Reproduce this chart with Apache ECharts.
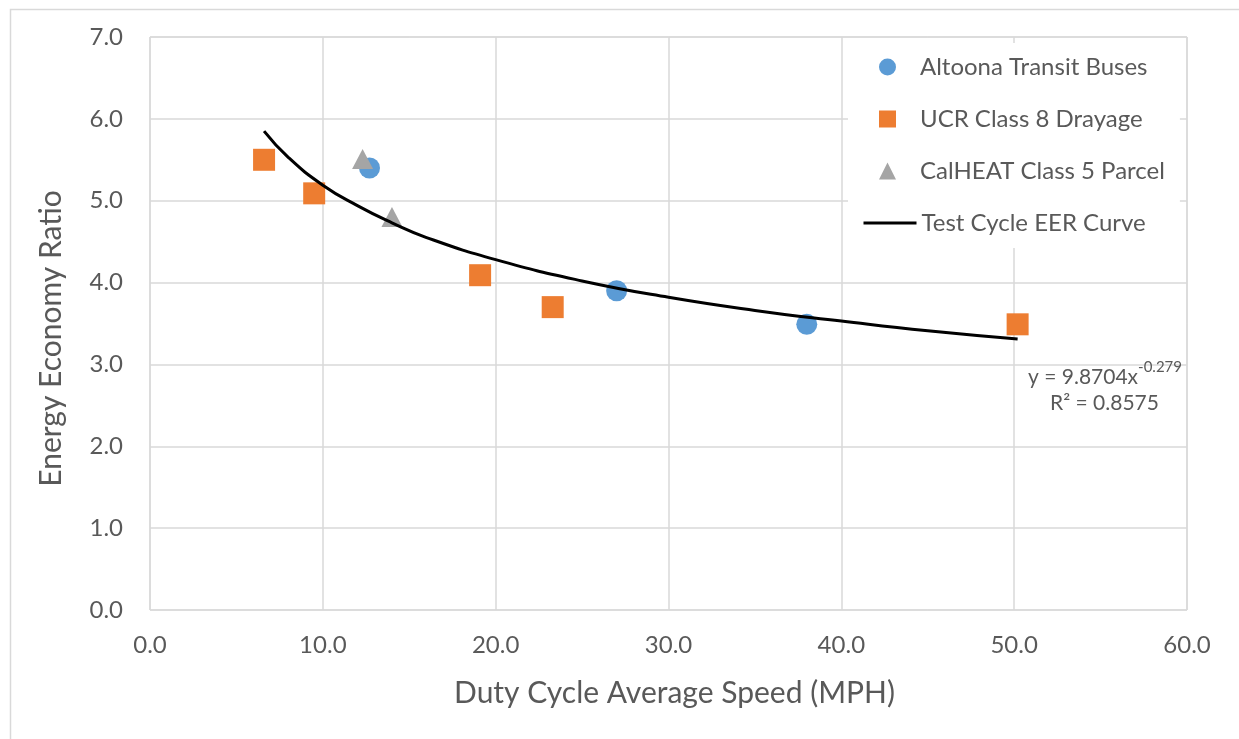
<!DOCTYPE html>
<html>
<head>
<meta charset="utf-8">
<script src="https://cdn.jsdelivr.net/npm/echarts@6/dist/echarts.min.js"></script>
<style>
  html, body { margin: 0; padding: 0; background: #fff; }
  #chart { width: 1239px; height: 739px; }
</style>
</head>
<body>
<div id="chart"></div>
<script>
// data
var altoona = [[12.7, 5.40], [27.0, 3.90], [38.0, 3.49]];
var ucr = [[6.6, 5.50], [9.5, 5.09], [19.1, 4.09], [23.3, 3.70], [50.2, 3.49]];
var calheat = [[12.3, 5.51], [14.0, 4.80]];
// trend curve, read at several speeds
var curveX = [6.6, 8, 10, 12, 14, 16, 20, 25, 30, 35, 40, 45, 50.2];
var curveY = [5.85, 5.53, 5.19, 4.94, 4.73, 4.55, 4.28, 4.02, 3.82, 3.66, 3.53, 3.41, 3.31];
var xTicks = [0, 10, 20, 30, 40, 50, 60];
var yTicks = [0, 1, 2, 3, 4, 5, 6, 7];

var curve = curveX.map(function (x, i) { return [x, curveY[i]]; });
var FONT = "Lato, 'Noto Sans', sans-serif";
var TXT = "#595959";

var myChart = echarts.init(document.getElementById("chart"));

var option = {
  backgroundColor: "#fff",
  animation: false,
  textStyle: { fontFamily: FONT },
  grid: {
    left: 150,
    top: 37,
    right: 52,
    bottom: 129,
    show: true,
    borderColor: "#d0d0d0",
    borderWidth: 1,
  },
  xAxis: {
    type: "value",
    min: xTicks[0],
    max: xTicks[xTicks.length - 1],
    interval: 10,
    name: "Duty Cycle Average Speed (MPH)",
    nameLocation: "middle",
    nameGap: 68,
    nameTextStyle: { color: TXT, fontSize: 30, fontFamily: FONT, padding: [0, 0, 0, 12] },
    axisLine: { show: false },
    axisTick: { show: false },
    axisLabel: {
      color: TXT,
      fontSize: 24,
      margin: 23,
      formatter: function (v) { return v.toFixed(1); },
    },
    splitLine: { lineStyle: { color: "#d9d9d9", width: 1.5 } },
  },
  yAxis: {
    type: "value",
    min: yTicks[0],
    max: yTicks[yTicks.length - 1],
    interval: 1,
    name: "Energy Economy Ratio",
    nameLocation: "middle",
    nameGap: 84,
    nameTextStyle: { color: TXT, fontSize: 30, fontFamily: FONT, padding: [0, 30, 0, 0] },
    axisLine: { show: false },
    axisTick: { show: false },
    axisLabel: {
      color: TXT,
      fontSize: 24,
      margin: 27,
      formatter: function (v) { return v.toFixed(1); },
    },
    splitLine: { lineStyle: { color: "#d9d9d9", width: 1.5 } },
  },
  legend: [
    {
      // marker entries, white box also covers the line entry
      orient: "vertical",
      left: 848,
      top: 43,
      padding: [11, 15, 64, 31],
      backgroundColor: "#fff",
      itemWidth: 17,
      itemHeight: 17,
      itemGap: 26,
      textStyle: { color: TXT, fontSize: 24, lineHeight: 26, fontFamily: FONT, padding: [0, 0, 0, 19] },
      data: [
        { name: "Altoona Transit Buses", icon: "circle" },
        { name: "UCR Class 8 Drayage", icon: "rect" },
        { name: "CalHEAT Class 5 Parcel", icon: "triangle" },
      ],
      z: 10,
    },
    {
      orient: "vertical",
      left: 862,
      top: 210,
      padding: 0,
      itemWidth: 53,
      itemHeight: 17,
      itemStyle: { opacity: 0 },
      lineStyle: { color: "#000", width: 3 },
      textStyle: { color: TXT, fontSize: 24, lineHeight: 26, fontFamily: FONT },
      data: ["Test Cycle EER Curve"],
      z: 11,
    },
  ],
  series: [
    {
      name: "Altoona Transit Buses",
      type: "scatter",
      symbol: "circle",
      symbolSize: 21,
      itemStyle: { color: "#5b9bd5", opacity: 1 },
      data: altoona,
      z: 3,
    },
    {
      name: "UCR Class 8 Drayage",
      type: "scatter",
      symbol: "rect",
      symbolSize: 22,
      itemStyle: { color: "#ed7d31", opacity: 1 },
      data: ucr,
      z: 3,
    },
    {
      name: "CalHEAT Class 5 Parcel",
      type: "scatter",
      symbol: "triangle",
      symbolSize: [21, 20],
      itemStyle: { color: "#a5a5a5", opacity: 1 },
      data: calheat,
      z: 4,
    },
    {
      name: "Test Cycle EER Curve",
      type: "line",
      smooth: true,
      showSymbol: false,
      symbol: "none",
      lineStyle: { color: "#000", width: 3 },
      itemStyle: { color: "#000" },
      data: curve,
      z: 5,
    },
  ],
  graphic: [
    {
      type: "rect",
      left: 8,
      top: 7,
      shape: { width: 1260, height: 760 },
      style: { fill: "none", stroke: "#d9d9d9", lineWidth: 1.5 },
      silent: true,
      z: -10,
    },
    {
      type: "text",
      left: 1028,
      top: 360,
      style: {
        text: "{a|y = 9.8704x}{s|-0.279}",
        rich: {
          a: { fontSize: 21, fill: TXT, fontFamily: FONT, verticalAlign: "bottom", lineHeight: 28 },
          s: { fontSize: 15, fill: TXT, fontFamily: FONT, verticalAlign: "top", lineHeight: 28, padding: [0, 0, 12, 0] },
        },
      },
      z: 10,
    },
    {
      type: "text",
      left: 1050,
      top: 393,
      style: { text: "R² = 0.8575", fontSize: 21, fill: TXT, fontFamily: FONT },
      z: 10,
    },
  ],
};

myChart.setOption(option);
</script>
</body>
</html>
